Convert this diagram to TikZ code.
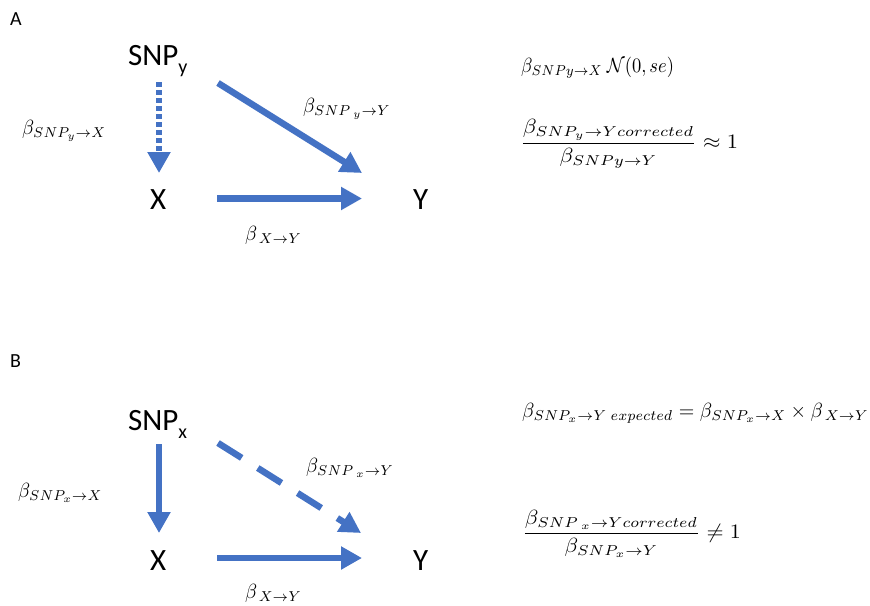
\documentclass[tikz,border=0pt]{standalone}
\usepackage{amsmath}
\usepackage{graphicx}
\usepackage{fontspec}
\setmainfont{Carlito}
\usetikzlibrary{arrows.meta,calc}
\definecolor{arrblue}{HTML}{4472C4}
\newcommand{\snpsub}[1]{\raisebox{-8pt}{\fontsize{20}{20}\selectfont #1}}
\newcommand{\mbig}[2][1.95]{\scalebox{#1}[2.05]{$#2$}}
\begin{document}
\begin{tikzpicture}[x=1pt,y=-1pt,
  txt/.style={font=\fontsize{31}{34}\selectfont, inner sep=0pt, anchor=base west},
  lbl/.style={font=\fontsize{20}{22}\selectfont, inner sep=0pt, anchor=base west},
  mth/.style={font=\normalsize, inner sep=0pt, anchor=base west},
  arr/.style={draw=arrblue, line width=6.5pt, -{Triangle[length=21pt,width=22pt]}},
  dotline/.style={dash pattern=on 5pt off 3pt},
  dashline/.style={dash pattern=on 28pt off 19pt}]
\useasboundingbox (0,0) rectangle (870,605);
% ---------- A ----------
\node[lbl] (labA) at (10,25) {A};
\node[txt] (sA) at (128,65) {SNP\snpsub{y}};
\node[txt] (xA) at (150,209) {X};
\node[txt] (yA) at (413,209) {Y};
\coordinate (a1) at (159,82);  \coordinate (a2) at (159,173);
\coordinate (a3) at (218,83);  \coordinate (a4) at (362,173);
\coordinate (a5) at (217,198.5); \coordinate (a6) at (362,198.5);
\draw[arr,dotline] (a1) -- (a2);
\draw[arr] (a3) -- (a4);
\draw[arr] (a5) -- (a6);
\node[mth] (l1) at (22,134) {\mbig{\beta_{SNP_y\to X}}};
\node[mth] (l2) at (303,112) {\mbig{\beta_{SNP\,{}_y\to Y}}};
\node[mth] (l3) at (245,240) {\mbig{\beta_{\,X\to Y}}};
\node[mth] (e1) at (521,72) {\mbig[1.85]{\beta_{SNPy\to X}\ \mathcal{N}(0,se)}};
\node[mth] (f1) at (520,148.5) {\mbig[2.25]{\dfrac{\beta_{SNP_y\to Ycorrected}}{\beta_{SNPy\to Y}}\approx 1}};
% ---------- B ----------
\node[lbl] (labB) at (10,367) {B};
\node[txt] (sB) at (128,430) {SNP\snpsub{x}};
\node[txt] (xB) at (150,570) {X};
\node[txt] (yB) at (413,570) {Y};
\coordinate (b1) at (159,444); \coordinate (b2) at (159,533);
\coordinate (b3) at (218,443); \coordinate (b4) at (361,533);
\coordinate (b5) at (217,558); \coordinate (b6) at (362,558);
\draw[arr] (b1) -- (b2);
\draw[arr,dashline] (b3) -- (b4);
\draw[arr] (b5) -- (b6);
\node[mth] (l4) at (18,497) {\mbig{\beta_{SNP_x\to X}}};
\node[mth] (l5) at (306,472) {\mbig{\beta_{SNP\,{}_x\to Y}}};
\node[mth] (l6) at (245,598) {\mbig{\beta_{\,X\to Y}}};
\node[mth] (e2) at (522,417) {\mbig[2.0]{\beta_{SNP_x\to Y\ expected}=\beta_{SNP_x\to X}\times\beta_{\,X\to Y}}};
\node[mth] (f2) at (522,538.5) {\mbig[2.2]{\dfrac{\beta_{SNP\,{}_x\to Ycorrected}}{\beta_{SNP_x\to Y}}\neq 1}};
\end{tikzpicture}
\end{document}
